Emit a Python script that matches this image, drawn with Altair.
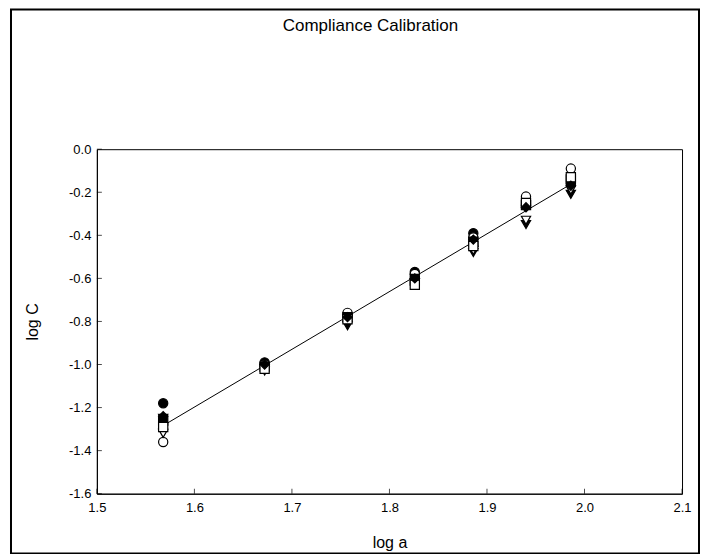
import altair as alt
import pandas as pd

log_a = [1.568, 1.672, 1.757, 1.826, 1.886, 1.940, 1.986]

series_names = ["s1", "s2", "s3", "s4", "s5", "s6", "s7"]
series_shapes = ["circle", "circle", "triangle-down", "triangle-down", "square", "square", "diamond"]
series_fills = ["black", "white", "black", "white", "black", "white", "black"]

log_c = {
    "s1": [-1.18, -0.99, -0.77, -0.57, -0.39, -0.26, -0.16],
    "s2": [-1.36, -1.00, -0.76, -0.58, -0.41, -0.22, -0.09],
    "s3": [-1.25, -1.03, -0.82, -0.60, -0.48, -0.35, -0.21],
    "s4": [-1.32, -1.02, -0.79, -0.62, -0.47, -0.33, -0.19],
    "s5": [-1.26, -1.01, -0.78, -0.61, -0.43, -0.26, -0.14],
    "s6": [-1.29, -1.02, -0.79, -0.63, -0.45, -0.25, -0.13],
    "s7": [-1.24, -1.00, -0.78, -0.60, -0.42, -0.27, -0.17],
}

x_ticks = [1.5, 1.6, 1.7, 1.8, 1.9, 2.0, 2.1]
y_ticks = [0.0, -0.2, -0.4, -0.6, -0.8, -1.0, -1.2, -1.4, -1.6]
title_text = ["Compliance Calibration"]

rows = []
for s in series_names:
    for xa, yc in zip(log_a, log_c[s]):
        rows.append({"series": s, "x": xa, "y": yc})
df = pd.DataFrame(rows)

W, H = 586, 345
FONT = "Liberation Sans"
LABEL_EXPR = "datum.value < -0.00001 ? '-' + format(-datum.value, '.1f') : format(abs(datum.value), '.1f')"

xscale = alt.Scale(domain=[1.5, 2.1], nice=False, zero=False)
yscale = alt.Scale(domain=[-1.6, 0.0], nice=False, zero=False)

xaxis = alt.Axis(values=x_ticks, labelExpr=LABEL_EXPR, title="log a", tickSize=0, grid=False,
                 domainColor="black", labelColor="black", labelFontSize=13, labelPadding=8,
                 titleFontSize=16, titleFontWeight="normal", titlePadding=20, titleColor="black",
                 labelFont=FONT, titleFont=FONT)
yaxis = alt.Axis(values=y_ticks, labelExpr=LABEL_EXPR, title="log C", tickSize=0, grid=False,
                 domainColor="black", labelColor="black", labelFontSize=13, labelPadding=6,
                 titleFontSize=16, titleFontWeight="normal", titlePadding=28, titleColor="black",
                 labelFont=FONT, titleFont=FONT)

base = alt.Chart(df)

points = base.mark_point(size=85, strokeWidth=1.2, opacity=1, stroke="black", filled=False).encode(
    x=alt.X("x:Q", scale=xscale, axis=xaxis),
    y=alt.Y("y:Q", scale=yscale, axis=yaxis),
    shape=alt.Shape("series:N", scale=alt.Scale(domain=series_names, range=series_shapes), legend=None),
    fill=alt.Fill("series:N", scale=alt.Scale(domain=series_names, range=series_fills), legend=None),
)

line = base.transform_regression("x", "y").mark_line(color="black", strokeWidth=1).encode(
    x=alt.X("x:Q", scale=xscale),
    y=alt.Y("y:Q", scale=yscale),
)

xt = alt.Chart(pd.DataFrame({"t": x_ticks})).mark_tick(color="black", thickness=1, size=5).encode(
    x=alt.X("t:Q", scale=xscale), y=alt.value(H - 2.5)
)
yt = alt.Chart(pd.DataFrame({"t": y_ticks})).mark_tick(color="black", thickness=1, size=5, orient="horizontal").encode(
    y=alt.Y("t:Q", scale=yscale), x=alt.value(2.5)
)

frame = alt.Chart(pd.DataFrame({"a": [0]})).mark_rect(fill=None, stroke="black", strokeWidth=2).encode(
    x=alt.value(-86), x2=alt.value(W + 17), y=alt.value(-140), y2=alt.value(H + 60)
)

title = alt.Chart(pd.DataFrame({"t": title_text})).mark_text(
    font=FONT, fontSize=17, color="black", align="center", baseline="alphabetic"
).encode(text="t:N", x=alt.value(274), y=alt.value(-118))

chart = alt.layer(frame, line, points, xt, yt, title).properties(
    width=W, height=H,
    autosize=alt.AutoSizeParams(type="none"),
    padding={"left": 89, "top": 141, "right": 20, "bottom": 60},
).configure_view(stroke="black", strokeWidth=1).configure_axis(labelFlush=False)

chart.save("out.html", embed_options={"renderer": "svg", "actions": False})
